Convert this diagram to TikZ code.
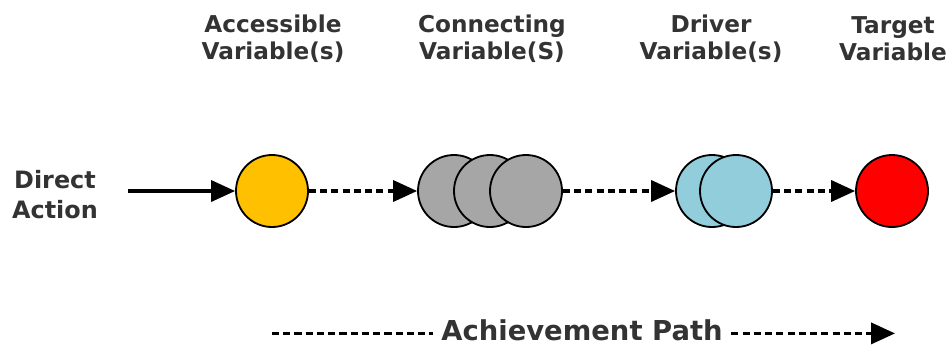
\documentclass[tikz,border=0pt]{standalone}
\usepackage{fontspec}
\setmainfont{DejaVu Sans}
\usepackage{tikz}
\usetikzlibrary{
  arrows.meta,
  positioning
}
\usepackage{xcolor}
\definecolor{labelgray}{RGB}{51,51,51}
\definecolor{accessyellow}{RGB}{255,192,0}
\definecolor{connectgray}{RGB}{166,166,166}
\definecolor{driverblue}{RGB}{146,205,220}
\definecolor{targetred}{RGB}{255,0,0}

\begin{document}
\begin{tikzpicture}[
  var/.style={circle, draw=black, line width=1.3pt,
    minimum size=1.8cm, inner sep=0pt},
  heading/.style={font=\fontsize{16.5}{19.5}\selectfont\bfseries,
    text=labelgray, align=center},
  link/.style={line width=2.2pt, -{Triangle[length=17pt,width=15pt]}},
  pathdash/.style={dash pattern=on 5pt off 3pt}
]
  \useasboundingbox (0,0) rectangle (23.7,8.675);

  % Variables along the path
  \node[var, fill=accessyellow] (A) at (6.8,3.9) {};
  \node[var, fill=connectgray] (C1) at (11.35,3.9) {};
  \node[var, fill=connectgray] (C2) at (12.25,3.9) {};
  \node[var, fill=connectgray] (C3) at (13.15,3.9) {};
  \node[var, fill=driverblue] (D1) at (17.8,3.9) {};
  \node[var, fill=driverblue] (D2) at (18.4,3.9) {};
  \node[var, fill=targetred] (T) at (22.3,3.9) {};

  % Headings
  \node[heading] (hA) at (6.825,7.71) {Accessible\\Variable(s)};
  \node[heading] (hC) at (12.3,7.71) {Connecting\\Variable(S)};
  \node[heading] (hD) at (17.775,7.71) {Driver\\Variable(s)};
  \node[heading] (hT) at (22.325,7.71) {Target\\Variable};

  % Direct action
  \node[heading, font=\fontsize{17}{21}\selectfont\bfseries]
    (act) at (1.375,3.81) {Direct\\Action};
  \coordinate (start) at (3.2,3.9);
  \draw[link] (start) -- (A);

  % Links
  \draw[link, pathdash] (A) -- (C1);
  \draw[link, pathdash] (C3) -- (D1);
  \draw[link, pathdash] (D2) -- (T);

  % Achievement path
  \node[font=\fontsize{19.5}{23}\selectfont\bfseries, text=labelgray,
    inner xsep=6pt, inner ysep=0pt]
    (path) at (14.55,0.42) {Achievement Path};
  \coordinate (pathstart) at (6.8,0.34);
  \coordinate (pathend) at (22.375,0.34);
  \draw[line width=2.2pt, pathdash] (pathstart) -- (pathstart -| path.west);
  \draw[link, pathdash] (pathend -| path.east) -- (pathend);
\end{tikzpicture}
\end{document}
